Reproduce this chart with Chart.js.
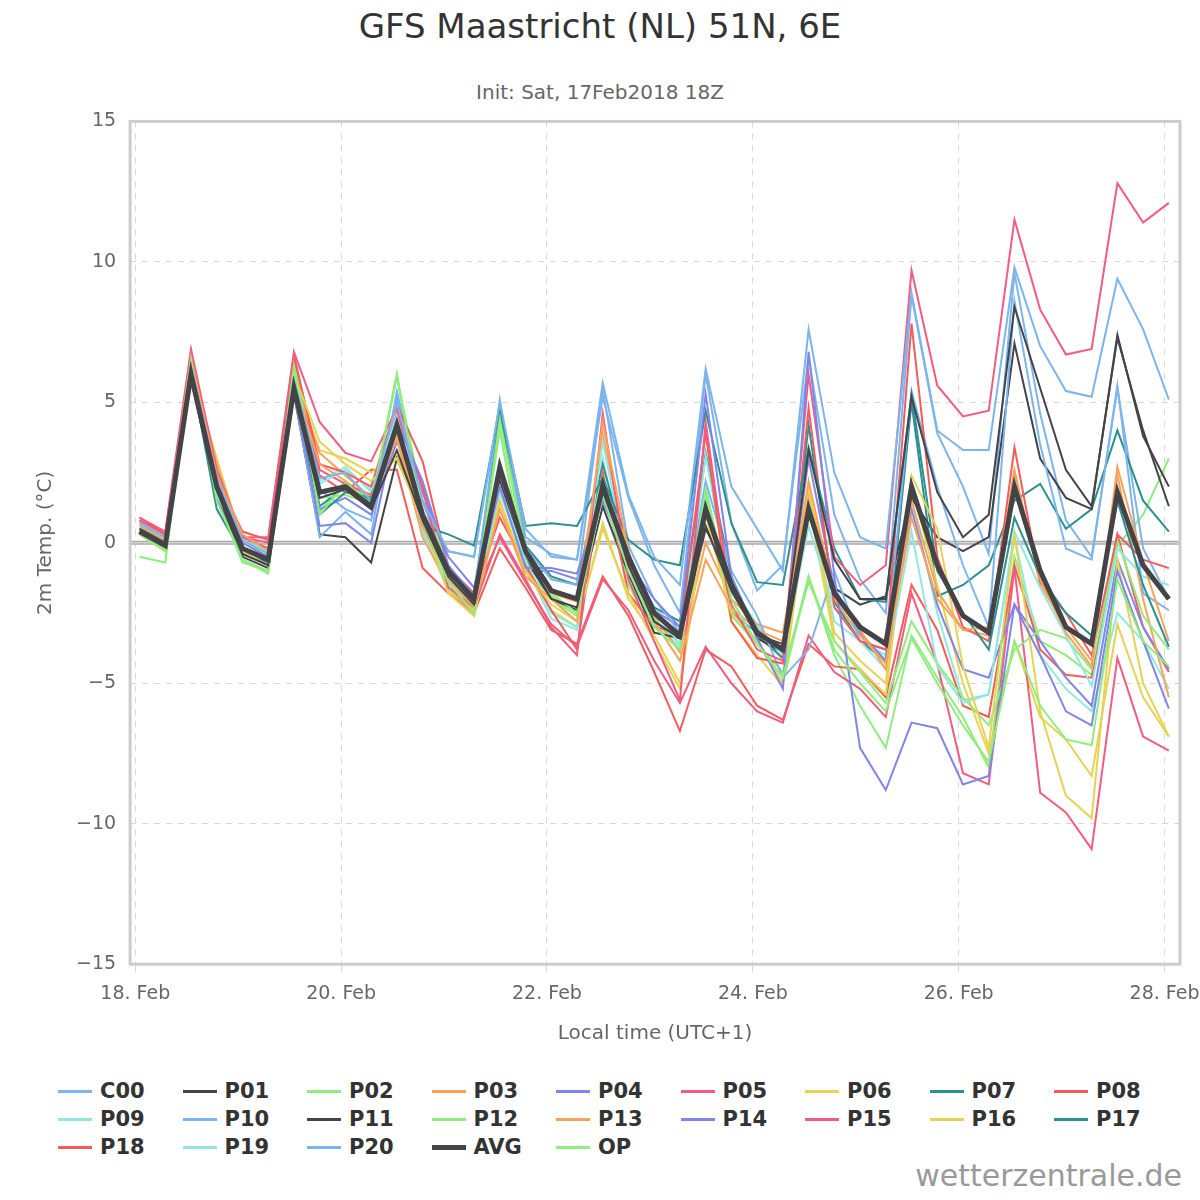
<!DOCTYPE html>
<html>
<head>
<meta charset="utf-8">
<script src="https://cdn.jsdelivr.net/npm/chart.js@4"></script>
<style>
  body { margin: 0; background: #fff; font-family: "DejaVu Sans", sans-serif; }
  #wrap { position: relative; width: 1200px; height: 1200px; }
  #title { position: absolute; top: 6px; width: 1200px; text-align: center; font-size: 34px; color: #333; }
  #subtitle { position: absolute; top: 80px; width: 1200px; text-align: center; font-size: 20px; color: #666; }
  #chartBox { position: absolute; left: 0; top: 96px; width: 1200px; height: 950px; }
  #legend { position: absolute; left: 58px; top: 1080px; display: grid; grid-template-columns: repeat(9, 124.5px); row-gap: 6px; }
  .item { display: flex; align-items: center; font-size: 21px; font-weight: bold; color: #333; height: 22px; }
  .swatch { width: 34px; height: 3px; margin-right: 8px; }
  #credit { position: absolute; right: 18px; top: 1158px; font-size: 30px; color: #999; }
</style>
</head>
<body>
<div id="wrap">
  <div id="title">GFS Maastricht (NL) 51N, 6E</div>
  <div id="subtitle">Init: Sat, 17Feb2018 18Z</div>
  <div id="chartBox"><canvas id="tempChart"></canvas></div>
  <div id="legend"></div>
  <div id="credit">wetterzentrale.de</div>
</div>
<script>
// 6-hourly steps, first value 18 Feb 01:00 local
const stepsPerDay = 4;
const xTicks = ['18. Feb', '20. Feb', '22. Feb', '24. Feb', '26. Feb', '28. Feb'];
const yTicks = [15, 10, 5, 0, -5, -10, -15];

const seriesNames = ['C00','P01','P02','P03','P04','P05','P06','P07','P08','P09','P10',
  'P11','P12','P13','P14','P15','P16','P17','P18','P19','P20','AVG','OP'];
const seriesColors = ['#7cb5ec','#434348','#90ed7d','#f7a35c','#8085e9','#f15c80','#e4d354','#2b908f','#f45b5b','#91e8e1',
  '#7cb5ec','#434348','#90ed7d','#f7a35c','#8085e9','#f15c80','#e4d354','#2b908f','#f45b5b','#91e8e1','#7cb5ec','#434348','#90ed7d'];

const C00 = [0.7,0.2,6.3,2.3,0.1,-0.4,5.8,2.3,2.5,1.5,5.0,1.5,-0.3,-0.5,5.0,0.5,-0.5,-0.6,5.7,1.7,-0.5,-1.5,6.2,2.0,0.5,-1.0,7.6,2.5,0.2,-0.2,8.9,4.0,3.3,3.3,9.8,7.0,5.4,5.2,9.4,7.6,5.1];
const P01 = [0.5,0.0,5.9,1.9,-0.4,-0.8,5.6,1.6,1.9,1.2,3.3,0.8,-1.2,-2.2,2.5,-0.4,-2.0,-2.3,2.2,-0.8,-2.8,-3.4,0.6,-1.7,-3.3,-3.6,3.3,-0.6,-2.0,-2.0,5.2,1.8,0.2,1.0,8.4,5.5,2.6,1.3,7.3,4.0,1.3];
const P02 = [0.3,-0.2,6.5,1.5,-0.6,-1.0,6.3,1.0,2.1,1.4,6.0,0.8,-1.4,-2.5,4.4,-0.2,-1.8,-2.5,1.7,-1.0,-3.0,-3.8,1.9,-2.0,-3.6,-4.8,-1.2,-3.8,-5.0,-6.0,-3.4,-5.0,-6.5,-7.8,-3.5,-5.8,-7.0,-7.2,-1.3,-3.5,-4.4];
const P03 = [0.6,0.1,6.6,2.4,0.3,-0.3,5.7,2.8,2.2,1.3,3.8,0.6,-1.3,-2.3,1.2,-1.2,-2.0,-2.8,4.3,-0.3,-2.8,-4.2,-0.6,-2.3,-3.1,-3.5,2.2,-1.9,-3.1,-4.5,1.5,-1.7,-3.1,-3.0,2.5,-1.3,-3.2,-4.4,2.7,-0.7,-3.5];
const P04 = [0.5,0.0,6.2,2.1,0.0,-0.5,5.4,0.6,0.7,0.0,4.3,2.2,-0.8,-1.9,2.0,-0.9,-0.9,-1.1,1.5,-0.7,-2.0,-3.0,5.3,-1.2,-3.4,-5.2,6.8,-1.2,-7.3,-8.8,-6.4,-6.6,-8.6,-8.3,-2.2,-4.0,-6.0,-6.5,-1.0,-3.5,-5.9];
const P05 = [0.9,0.4,6.9,2.6,0.2,0.2,6.8,4.3,3.2,2.9,4.8,1.9,-1.6,-2.3,0.3,-1.3,-3.0,-4.0,4.6,-1.3,-3.5,-5.6,4.3,-2.2,-3.8,-4.2,6.0,-0.5,-1.5,-0.8,9.7,5.6,4.5,4.7,11.5,8.3,6.7,6.9,12.8,11.4,12.1];
const P06 = [0.3,-0.2,6.0,2.6,-0.3,-0.8,6.0,3.6,2.8,2.2,3.0,0.8,-1.8,-2.6,1.5,-1.0,-2.2,-2.8,0.5,-1.8,-3.5,-5.2,1.0,-2.5,-3.5,-5.0,2.0,-3.2,-4.2,-5.0,2.4,0.5,-4.4,-7.3,0.3,-6.0,-9.0,-9.8,-0.6,-5.0,-6.9];
const P07 = [0.4,0.0,6.1,1.2,-0.4,-0.7,5.6,1.0,1.8,1.6,4.0,0.6,0.3,-0.1,4.8,0.6,0.7,0.6,2.3,0.1,-0.6,-0.8,4.7,0.7,-1.4,-1.5,3.4,-0.2,-2.0,-2.1,5.3,-1.0,-2.5,-3.8,0.9,-1.2,-2.5,-3.3,1.5,-1.5,-3.7];
const P08 = [0.9,0.3,6.7,2.3,0.4,0.1,6.6,2.8,2.5,2.0,4.9,2.9,-0.9,-1.8,0.9,-0.8,-2.4,-3.8,2.5,-1.8,-3.0,-3.2,3.9,-2.8,-4.1,-4.3,4.8,-2.3,-3.5,-3.8,7.8,-0.5,-3.0,-3.5,3.4,-1.4,-2.5,-4.0,0.3,-0.6,-0.9];
const P09 = [0.6,0.1,6.4,1.7,0.0,-0.4,5.5,2.1,2.6,1.9,4.5,0.5,-1.5,-2.2,2.0,-0.6,-2.5,-3.0,3.6,-1.0,-2.5,-3.6,3.1,-1.8,-3.0,-4.0,0.6,-2.3,-3.5,-4.5,0.4,-4.4,-5.7,-5.4,0.4,-1.6,-3.3,-5.1,-0.2,-1.2,-1.5];
const P10 = [0.6,0.2,6.1,2.0,-0.2,-0.5,5.4,0.2,1.1,0.3,5.4,1.5,-1.2,-2.0,5.1,-0.2,-1.3,-1.5,5.5,-0.1,-2.0,-3.2,2.2,-1.0,-2.6,-4.8,-3.8,-1.0,-3.5,-3.8,5.4,2.0,-0.8,-3.0,8.6,3.5,-0.2,-0.6,5.6,-1.8,-2.4];
const P11 = [0.4,-0.1,5.8,1.8,-0.5,-0.9,5.3,0.3,0.2,-0.7,3.0,0.9,-1.1,-2.1,2.2,-0.6,-2.0,-2.4,1.3,-1.1,-3.2,-3.4,0.5,-1.3,-3.4,-3.9,1.0,-1.6,-2.2,-1.9,1.6,0.2,-0.3,0.2,7.1,3.0,1.6,1.2,7.4,3.8,2.0];
const P12 = [0.3,-0.3,6.6,1.8,-0.6,-1.1,6.5,1.6,1.7,1.4,5.9,1.5,-0.8,-2.1,4.0,-1.0,-1.9,-2.5,2.5,-1.4,-2.7,-3.6,1.7,-2.6,-3.6,-4.6,-1.4,-3.5,-4.6,-5.7,-2.8,-4.3,-5.5,-6.5,-3.8,-3.1,-3.4,-4.5,0.1,-2.6,-3.8];
const P13 = [0.5,0.0,6.5,2.8,0.1,-0.6,5.9,3.2,2.4,1.6,3.7,0.2,-1.5,-2.6,1.5,-1.2,-1.8,-2.1,3.9,-0.6,-2.6,-3.9,0.0,-2.0,-2.9,-3.2,1.8,-2.0,-3.3,-4.3,0.9,-2.0,-3.1,-3.3,2.6,-1.5,-3.0,-4.2,2.4,-2.0,-5.5];
const P14 = [0.4,-0.1,6.0,1.6,-0.2,-0.7,5.5,1.2,1.6,1.0,3.6,1.8,-0.5,-1.6,2.4,-1.0,-1.0,-1.3,1.8,-1.2,-2.4,-3.0,1.4,-2.5,-3.2,-3.8,3.0,-1.6,-3.2,-4.2,1.2,-2.2,-4.5,-4.8,-2.2,-3.5,-4.8,-5.8,-0.6,-3.0,-4.5];
const P15 = [0.8,0.3,6.8,2.4,0.2,0.0,6.7,2.6,2.1,1.7,4.6,2.0,-1.1,-1.9,0.2,-1.4,-2.9,-3.7,-1.3,-2.4,-4.2,-5.7,-3.7,-5.0,-6.0,-6.4,-3.3,-4.6,-5.2,-6.2,-1.8,-4.3,-8.2,-8.6,-0.9,-8.9,-9.6,-10.9,-4.1,-6.9,-7.4];
const P16 = [0.3,-0.2,6.2,3.0,0.0,-0.4,5.8,3.3,3.0,2.5,3.1,0.8,-1.7,-2.4,1.2,-1.0,-2.4,-3.0,0.7,-2.0,-3.3,-5.0,1.6,-2.8,-4.0,-5.1,1.5,-3.5,-4.5,-5.4,2.1,-1.5,-5.0,-7.5,-3.5,-6.2,-7.0,-8.3,-2.9,-5.5,-6.9];
const P17 = [0.5,0.1,6.2,1.5,-0.3,-0.6,5.7,1.3,2.0,1.5,4.3,0.9,-0.9,-1.8,4.6,-0.1,-1.2,-1.5,2.8,-0.5,-2.3,-2.8,3.2,-1.2,-3.3,-4.1,4.2,-2.1,-3.5,-4.2,5.0,-1.9,-1.5,-0.8,1.5,2.1,0.5,1.2,4.0,1.5,0.4];
const P18 = [0.8,0.3,6.6,2.2,0.2,-0.2,6.5,2.4,1.8,2.6,2.6,-0.9,-1.8,-2.5,-0.2,-1.6,-3.1,-3.6,-1.2,-2.6,-4.6,-6.7,-3.8,-4.4,-5.8,-6.3,-3.6,-4.4,-4.5,-5.5,-1.5,-3.1,-5.8,-6.2,-0.8,-3.8,-4.7,-4.8,0.3,-3.0,-4.6];
const P19 = [0.6,0.1,6.3,2.5,0.1,-0.3,5.6,2.2,2.7,1.8,4.4,0.4,-1.7,-2.4,1.8,-0.8,-2.7,-3.1,3.0,-1.4,-2.9,-3.7,3.1,-1.6,-2.9,-4.2,1.4,-2.8,-3.5,-4.0,1.6,-2.5,-5.6,-5.4,0.2,-4.0,-5.2,-6.0,-2.5,-3.5,-5.2];
const P20 = [0.7,0.2,6.4,2.2,0.1,-0.3,5.7,1.9,1.2,0.8,5.2,0.9,-0.3,-0.5,4.9,0.2,-0.4,-0.6,5.2,1.6,-0.8,-2.5,6.0,0.7,-1.7,-0.8,6.6,1.0,-1.3,-2.5,8.8,3.9,2.0,-0.4,9.6,4.6,0.8,-0.5,5.5,-0.2,-2.0];
const AVG = [0.4,-0.1,6.0,2.0,-0.2,-0.6,5.5,1.8,2.0,1.3,4.2,1.0,-1.0,-2.0,2.7,-0.3,-1.7,-2.0,2.0,-0.5,-2.5,-3.3,1.2,-1.5,-3.2,-3.8,1.2,-1.8,-3.0,-3.6,2.0,-0.8,-2.6,-3.2,2.0,-1.0,-3.0,-3.6,1.8,-0.8,-2.0];
const OP = [-0.5,-0.7,6.5,1.6,-0.7,-1.0,6.4,1.1,2.2,1.5,6.0,0.5,-1.2,-2.4,4.4,-0.5,-2.0,-2.6,2.3,-1.5,-3.2,-3.3,2.0,-2.4,-3.5,-5.0,-1.2,-4.0,-5.8,-7.3,-3.3,-4.8,-6.2,-8.0,-0.5,-3.5,-4.0,-4.7,-0.1,1.0,3.0];

const seriesValues = [C00,P01,P02,P03,P04,P05,P06,P07,P08,P09,P10,P11,P12,P13,P14,P15,P16,P17,P18,P19,P20,AVG,OP];

// Build datasets (x in days since 18 Feb 00:00)
const datasets = seriesNames.map((name, i) => {
    const isAvg = name === 'AVG';
    return {
        label: name,
        data: seriesValues[i].map((v, k) => ({ x: k / stepsPerDay + 1 / 24, y: v })),
        borderColor: seriesColors[i],
        borderWidth: isAvg ? 5 : 2,
        pointRadius: 0,
        tension: 0,
        order: isAvg ? 0 : 1
    };
});

// Legend as a grid
const legendEl = document.getElementById('legend');
seriesNames.forEach((name, i) => {
    const item = document.createElement('div');
    item.className = 'item';
    const sw = document.createElement('span');
    sw.className = 'swatch';
    sw.style.background = seriesColors[i];
    if (name === 'AVG') sw.style.height = '5px';
    item.appendChild(sw);
    item.appendChild(document.createTextNode(name));
    legendEl.appendChild(item);
});

// Border around the plot and zero line
const frame = {
    id: 'frame',
    beforeDatasetsDraw(chart) {
        const { ctx, chartArea, scales } = chart;
        const y0 = scales.y.getPixelForValue(0);
        ctx.save();
        ctx.strokeStyle = '#aaaaaa';
        ctx.lineWidth = 4;
        ctx.beginPath();
        ctx.moveTo(chartArea.left, y0);
        ctx.lineTo(chartArea.right, y0);
        ctx.stroke();
        ctx.strokeStyle = '#e6e6e6';
        ctx.lineWidth = 1;
        ctx.beginPath();
        ctx.moveTo(chartArea.left, y0);
        ctx.lineTo(chartArea.right, y0);
        ctx.stroke();
        ctx.restore();
    },
    afterDraw(chart) {
        const { ctx, chartArea } = chart;
        ctx.save();
        ctx.strokeStyle = '#cccccc';
        ctx.lineWidth = 3;
        ctx.strokeRect(chartArea.left, chartArea.top, chartArea.right - chartArea.left, chartArea.bottom - chartArea.top);
        ctx.restore();
    }
};

new Chart(document.getElementById('tempChart'), {
    type: 'line',
    data: { datasets: datasets },
    plugins: [frame],
    options: {
        responsive: true,
        maintainAspectRatio: false,
        animation: false,
        layout: { padding: { top: 13, right: 20, left: 30, bottom: 0 } },
        plugins: {
            legend: { display: false },
            tooltip: { enabled: false }
        },
        scales: {
            x: {
                type: 'linear',
                min: -0.05,
                max: 10.15,
                afterBuildTicks: axis => { axis.ticks = xTicks.map((_, i) => ({ value: i * 2 })); },
                afterFit: axis => { axis.paddingRight = 0; },
                grid: { color: '#d8d8d8', drawTicks: true, tickLength: 8 },
                border: { display: false, dash: [6, 6] },
                ticks: {
                    color: '#666', font: { family: 'DejaVu Sans', size: 19 },
                    maxRotation: 0, padding: 10,
                    callback: v => xTicks[Math.round(v / 2)]
                },
                title: { display: true, text: 'Local time (UTC+1)', color: '#666', padding: { top: 7, bottom: 0 },
                    font: { family: 'DejaVu Sans', size: 20 } }
            },
            y: {
                min: -15,
                max: 15,
                afterBuildTicks: axis => { axis.ticks = yTicks.map(v => ({ value: v })); },
                grid: { color: '#d8d8d8', drawTicks: false },
                border: { display: false, dash: [6, 6] },
                ticks: {
                    color: '#666', font: { family: 'DejaVu Sans', size: 19 }, padding: 14,
                    callback: v => v < 0 ? '\u2212' + Math.abs(v) : String(v)
                },
                title: { display: true, text: '2m Temp. (°C)', color: '#666', font: { family: 'DejaVu Sans', size: 20 } }
            }
        }
    }
});
</script>
</body>
</html>
